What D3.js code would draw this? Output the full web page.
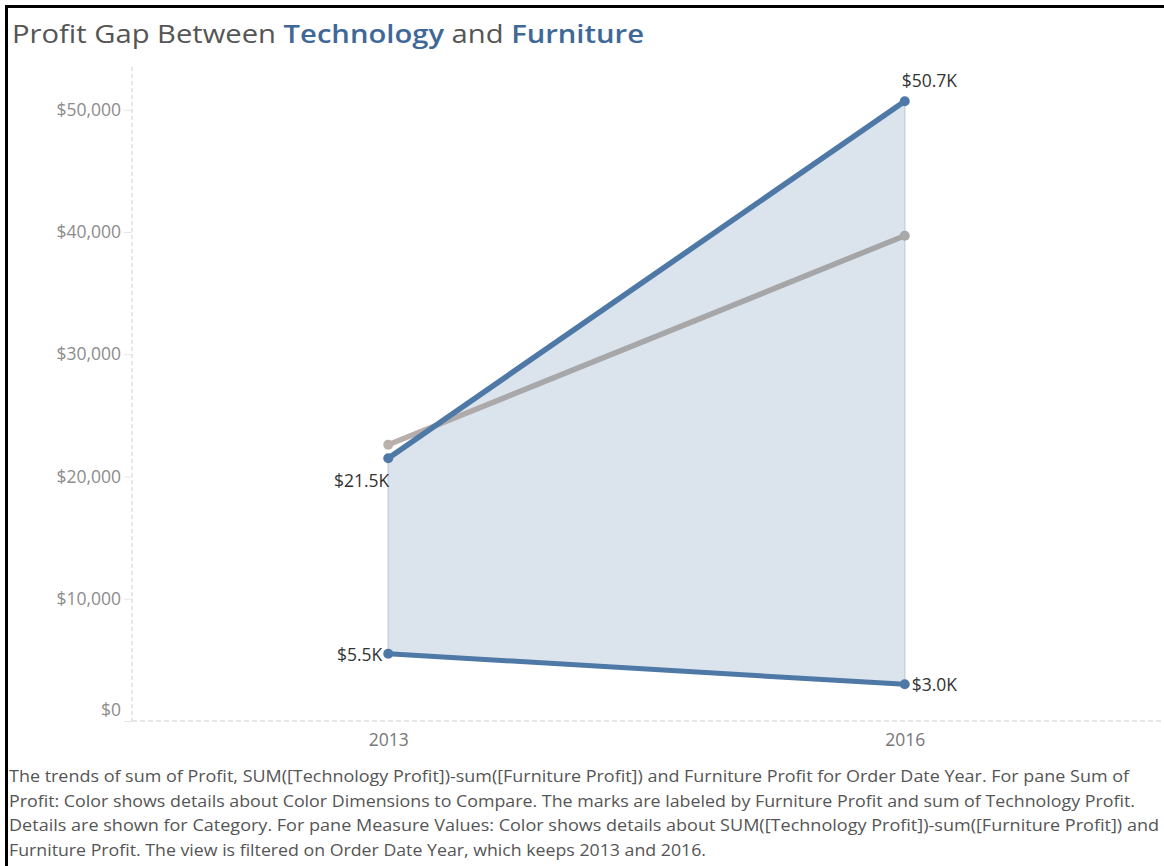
<!DOCTYPE html>
<html>
<head>
<meta charset="utf-8">
<script src="https://cdn.jsdelivr.net/npm/d3@7/dist/d3.min.js"></script>
<style>
  body { margin: 0; background: #fff; }
  svg { display: block; }
</style>
</head>
<body>
<div id="chart"></div>
<script>
const years = ["2013", "2016"];
const techProfit = [21500, 50700];
const furnProfit = [5500, 3000];
const compareProfit = [22600, 39700];
const yTicks = [0, 10000, 20000, 30000, 40000, 50000];
const captionLines = [
  "The trends of sum of Profit, SUM([Technology Profit])-sum([Furniture Profit]) and Furniture Profit for Order Date Year.  For pane Sum of",
  "Profit:  Color shows details about Color Dimensions to Compare.  The marks are labeled by Furniture Profit and sum of Technology Profit.",
  "Details are shown for Category.  For pane Measure Values:  Color shows details about SUM([Technology Profit])-sum([Furniture Profit]) and",
  "Furniture Profit. The view is filtered on Order Date Year, which keeps 2013 and 2016."
];
const captionWidths = [1120, 1126, 1150, 697];

const W = 1164, H = 866;
const blue = "#4e79a7";

let svg = d3
  .select("#chart")
  .append("svg")
  .attr("width", W)
  .attr("height", H);

svg.append("rect").attr("width", W).attr("height", H).attr("fill", "#fff");

// frame (top and left)
svg.append("rect").attr("x", 5).attr("y", 5).attr("width", W - 5).attr("height", 3).attr("fill", "#000");
svg.append("rect").attr("x", 5).attr("y", 5).attr("width", 3).attr("height", H - 5).attr("fill", "#000");

// title
let title = svg
  .append("text")
  .attr("x", 12)
  .attr("y", 43)
  .attr("font-family", "Open Sans, sans-serif")
  .attr("font-size", 26)
  .attr("fill", "#555")
  .attr("textLength", 632)
  .attr("lengthAdjust", "spacingAndGlyphs");
title.append("tspan").text("Profit Gap Between ");
title.append("tspan").attr("fill", "#3f6898").attr("font-weight", 600).text("Technology");
title.append("tspan").text(" and ");
title.append("tspan").attr("fill", "#3f6898").attr("font-weight", 600).text("Furniture");

let x = d3.scalePoint().domain(years).range([130, 1163]).padding(0.5);
let y = d3.scaleLinear().domain([0, 53500]).range([721, 67]);

// y axis
let yAxis = svg
  .append("g")
  .attr("transform", "translate(132,0)")
  .call(d3.axisLeft(y).tickValues(yTicks).tickFormat(d3.format("$,")).tickSize(8).tickPadding(3));
yAxis.select(".domain").remove();
yAxis.selectAll(".tick line").attr("stroke", "#e6e6e6");
yAxis.selectAll(".tick text")
  .attr("font-family", "Open Sans, sans-serif")
  .attr("font-size", 17.5)
  .attr("fill", "#8c8c8c")
  .attr("dy", d => d === 0 ? "-0.3em" : "0.32em");

svg.append("line")
  .attr("x1", 132).attr("x2", 132)
  .attr("y1", y.range()[1]).attr("y2", y(0))
  .attr("stroke", "#cfcfcf")
  .attr("stroke-dasharray", "4,3");

// x axis
let xAxis = svg
  .append("g")
  .attr("transform", `translate(0,${y(0)})`)
  .call(d3.axisBottom(x).tickSize(0).tickPadding(13));
xAxis.select(".domain").remove();
xAxis.selectAll(".tick text")
  .attr("font-family", "Open Sans, sans-serif")
  .attr("font-size", 17.5)
  .attr("fill", "#777");

svg.append("line")
  .attr("x1", 132).attr("x2", W)
  .attr("y1", y(0)).attr("y2", y(0))
  .attr("stroke", "#cfcfcf")
  .attr("stroke-dasharray", "5,3");

// gap area between technology and furniture
let gap = years.map((yr, i) => ({ year: yr, hi: techProfit[i], lo: furnProfit[i] }));
svg.append("path")
  .datum(gap)
  .attr("d", d3.area().x(d => x(d.year)).y0(d => y(d.lo)).y1(d => y(d.hi)))
  .attr("fill", "#dbe3ec")
  .attr("stroke", "#c5d3e3")
  .attr("stroke-width", 1.5);

// compare (gray) line
let grad = svg.append("defs").append("linearGradient")
  .attr("id", "grayGrad")
  .attr("gradientUnits", "userSpaceOnUse")
  .attr("x1", x(years[0])).attr("x2", x(years[1]))
  .attr("y1", 0).attr("y2", 0);
grad.append("stop").attr("offset", "0%").attr("stop-color", "#bab0ac");
grad.append("stop").attr("offset", "25%").attr("stop-color", "#a8a7aa");
grad.append("stop").attr("offset", "100%").attr("stop-color", "#a5a5a8");

function drawSeries(values, color, width) {
  let pts = years.map((yr, i) => ({ year: yr, v: values[i] }));
  svg.append("path")
    .datum(pts)
    .attr("d", d3.line().x(d => x(d.year)).y(d => y(d.v)))
    .attr("fill", "none")
    .attr("stroke", color)
    .attr("stroke-width", width)
    .attr("stroke-linecap", "round");
  return pts;
}

let grayPts = drawSeries(compareProfit, "url(#grayGrad)", 5.5);
svg.selectAll(".grayDot")
  .data(grayPts)
  .join("circle")
  .attr("cx", d => x(d.year))
  .attr("cy", d => y(d.v))
  .attr("r", 5)
  .attr("fill", (d, i) => i === 0 ? "#bab0ac" : "#a9a8ab");

let techPts = drawSeries(techProfit, blue, 5.5);
let furnPts = drawSeries(furnProfit, blue, 5);
svg.selectAll(".blueDot")
  .data(techPts.concat(furnPts))
  .join("circle")
  .attr("cx", d => x(d.year))
  .attr("cy", d => y(d.v))
  .attr("r", 5)
  .attr("fill", blue);

// labels
const fmtK = v => "$" + (v / 1000).toFixed(1) + "K";
function label(xv, yv, txt, anchor, dx, dy) {
  svg.append("text")
    .attr("x", x(xv) + dx)
    .attr("y", y(yv) + dy)
    .attr("text-anchor", anchor)
    .attr("dominant-baseline", "central")
    .attr("font-family", "Open Sans, sans-serif")
    .attr("font-size", 17.5)
    .attr("fill", "#333")
    .text(txt);
}
label(years[1], techProfit[1], fmtK(techProfit[1]), "start", -3, -21);
label(years[0], techProfit[0], fmtK(techProfit[0]), "end", 1, 22);
label(years[0], furnProfit[0], fmtK(furnProfit[0]), "end", -6, 0);
label(years[1], furnProfit[1], fmtK(furnProfit[1]), "start", 7, 0);

// caption
svg.selectAll(".caption")
  .data(captionLines)
  .join("text")
  .attr("x", 9)
  .attr("y", (d, i) => 782 + i * 24.5)
  .attr("font-family", "Open Sans, sans-serif")
  .attr("font-size", 15.5)
  .attr("fill", "#555")
  .attr("textLength", (d, i) => captionWidths[i])
  .attr("lengthAdjust", "spacingAndGlyphs")
  .text(d => d);
</script>
</body>
</html>
